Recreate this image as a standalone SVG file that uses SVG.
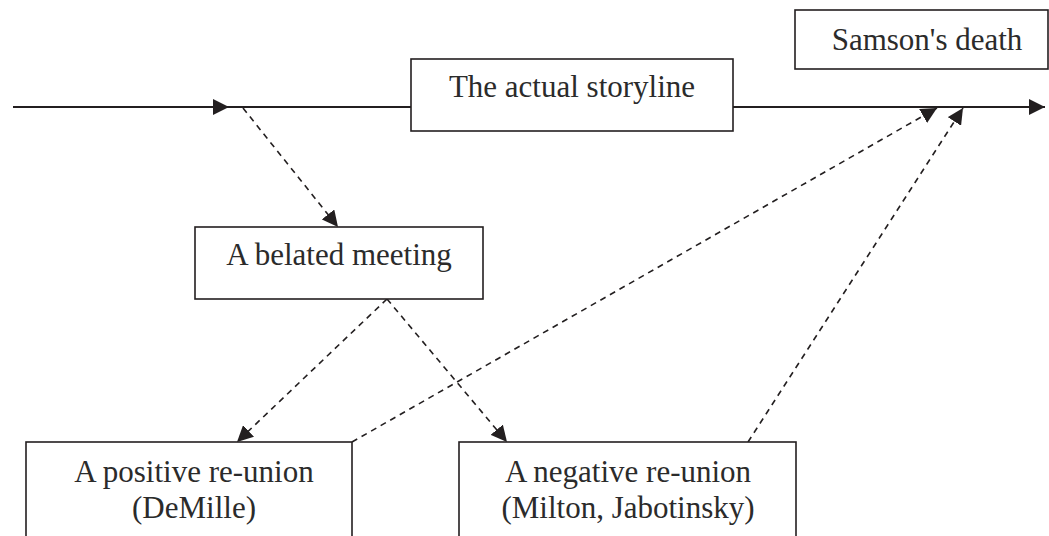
<svg xmlns="http://www.w3.org/2000/svg" width="1049" height="536" viewBox="0 0 1049 536">
<style>
.box{fill:#fff;stroke:#231f20;stroke-width:1.6}
.t{font-family:"Liberation Serif",serif;font-size:31px;fill:#2b2b2b;text-anchor:middle}
.solid{stroke:#231f20;stroke-width:2.2;fill:none}
.dash{stroke:#231f20;stroke-width:1.6;fill:none;stroke-dasharray:6 5}
</style>
<defs>
<marker id="ah" viewBox="0 0 10 10" refX="10" refY="5" markerWidth="16" markerHeight="16" markerUnits="userSpaceOnUse" orient="auto">
<path d="M0,0 L10,5 L0,10 Z" fill="#231f20"/>
</marker>
</defs>
<g id="connectors">
<line class="solid" x1="13" y1="107" x2="229" y2="107" marker-end="url(#ah)"/>
<line class="solid" x1="229" y1="107" x2="411" y2="107"/>
<line class="solid" x1="733" y1="107" x2="1045" y2="107" marker-end="url(#ah)"/>
<line class="dash" x1="243" y1="108" x2="338" y2="227" marker-end="url(#ah)"/>
<line class="dash" x1="387" y1="299" x2="237" y2="442" marker-end="url(#ah)"/>
<line class="dash" x1="387" y1="299" x2="507" y2="442" marker-end="url(#ah)"/>
<line class="dash" x1="352" y1="442" x2="937" y2="108" marker-end="url(#ah)"/>
<line class="dash" x1="748" y1="442" x2="963" y2="108" marker-end="url(#ah)"/>
</g>
<g id="storyline">
<rect class="box" x="411" y="59" width="322" height="72"/>
<text class="t" x="572" y="97">The actual storyline</text>
</g>
<g id="samson">
<rect class="box" x="795" y="10" width="253" height="59"/>
<text class="t" x="927" y="50">Samson's death</text>
</g>
<g id="belated">
<rect class="box" x="195" y="227" width="288" height="72"/>
<text class="t" x="339" y="265">A belated meeting</text>
</g>
<g id="positive">
<rect class="box" x="26" y="442" width="326" height="110"/>
<text class="t" x="194" y="482">A positive re-union</text>
<text class="t" x="194" y="518">(DeMille)</text>
</g>
<g id="negative">
<rect class="box" x="459" y="442" width="337" height="110"/>
<text class="t" x="628" y="482">A negative re-union</text>
<text class="t" x="628" y="518">(Milton, Jabotinsky)</text>
</g>
</svg>
